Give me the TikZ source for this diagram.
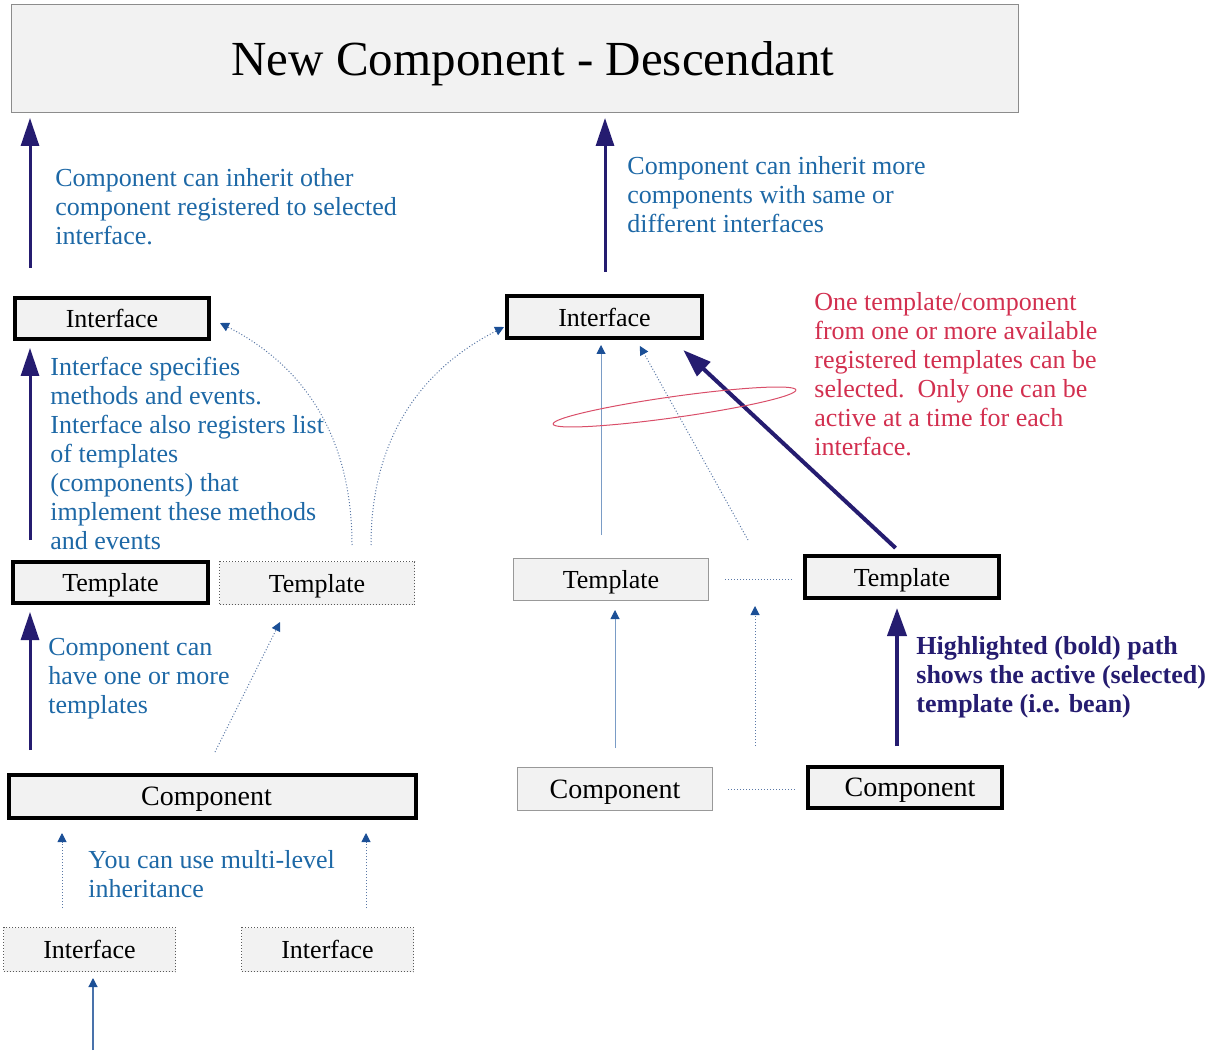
\documentclass[tikz,border=0pt]{standalone}
\usepackage{fontspec}
\setmainfont{Liberation Serif}
\usetikzlibrary{arrows.meta}
\definecolor{boxgray}{HTML}{F2F2F2}
\definecolor{noteblue}{HTML}{1D68A6}
\definecolor{navy}{HTML}{251C70}
\definecolor{notered}{HTML}{D22F4F}
\definecolor{tipblue}{HTML}{1B4F96}
\definecolor{thinblue}{HTML}{7A9CC6}
\definecolor{dotblue}{HTML}{5A78A6}

\begin{document}
\begin{tikzpicture}[x=0.5pt,y=-0.5pt]
         \tikzset{every node/.style={inner sep=0pt,font=\fontsize{13}{14.5}\selectfont}}
         \tikzset{topbox/.style={draw=gray!90,line width=0.5pt,fill=boxgray,minimum width=503.5pt,minimum height=54pt,text depth=0pt,font=\fontsize{24.5}{28}\selectfont}}
         \tikzset{boldbox/.style={draw=black,line width=2pt,fill=boxgray,minimum width=97pt,minimum height=20.5pt,text depth=0pt}}
         \tikzset{plainbox/.style={draw=gray!80,line width=0.5pt,fill=boxgray,minimum width=97.5pt,minimum height=21pt,text depth=0pt}}
         \tikzset{dotbox/.style={draw=gray!70!black,densely dotted,line width=0.5pt,fill=boxgray,minimum width=97.5pt,minimum height=21.5pt,text depth=0pt}}
         \tikzset{note/.style={align=left,anchor=north west,text=noteblue}}
         \tikzset{navyarrow/.style={draw=navy,line width=1.5pt,-{Triangle[length=14pt,width=9pt]}}}
         \tikzset{boldarrow/.style={draw=navy,line width=2pt,-{Triangle[length=14pt,width=9.5pt]}}}
         \tikzset{thinarrow/.style={draw=thinblue,line width=0.5pt,-{Triangle[length=4.5pt,width=4.5pt,color=tipblue]}}}
         \tikzset{solidarrow/.style={draw=tipblue!80,line width=0.6pt,-{Triangle[length=4.5pt,width=4.5pt,color=tipblue]}}}
         \tikzset{dotarrow/.style={draw=dotblue,densely dotted,line width=0.5pt,-{Triangle[length=4.5pt,width=4.5pt,color=tipblue]}}}
         \tikzset{dotline/.style={draw=dotblue,densely dotted,line width=0.5pt}}
         \useasboundingbox (0,0) rectangle (1213,1052);
         % boxes
         \node[topbox] (top) at (515,58.5) {\hspace*{18pt}New Component - Descendant};
         \node[boldbox] (intL) at (112,318.5) {Interface};
         \node[boldbox,minimum width=97.5pt] (tplL) at (110.5,582.5) {Template};
         \node[dotbox] (tplL2) at (317,583) {Template};
         \node[boldbox,minimum width=203.5pt,minimum height=21.5pt,font=\fontsize{14}{16}\selectfont] (compL) at (212.5,796.5) {\hspace*{-6pt}Component};
         \node[dotbox,minimum width=86pt,minimum height=22pt] (intB1) at (89.5,949.5) {Interface};
         \node[dotbox,minimum width=86pt,minimum height=22pt] (intB2) at (327.5,949.5) {Interface};
         \node[boldbox,minimum width=97.5pt,minimum height=21pt] (intR) at (604.5,317) {Interface};
         \node[plainbox] (tplR1) at (611,579.5) {Template};
         \node[boldbox,minimum height=21pt] (tplR2) at (902,577) {Template};
         \node[plainbox,minimum height=21.5pt,font=\fontsize{14}{16}\selectfont] (compR1) at (615,789) {Component};
         \node[boldbox,font=\fontsize{14}{16}\selectfont] (compR2) at (905,787.5) {\hspace*{5pt}Component};
         % notes
         \node[note] (noteInh) at (55,168) {Component can inherit other\\component registered to selected\\interface.};
         \node[note] (noteMore) at (627,156) {Component can inherit more\\components with same or\\different interfaces};
         \node[note] (noteSpec) at (50,357) {Interface specifies\\methods and events.\\Interface also registers list\\of templates\\(components) that\\implement these methods\\and events};
         \node[note] (noteTpl) at (48,638) {Component can\\have one or more\\templates};
         \node[note] (noteMulti) at (88,850) {You can use multi-level\\inheritance};
         \node[note,text=notered] (noteOne) at (814,292) {One template/component\\from one or more available\\registered templates can be\\selected.\ \ Only one can be\\active at a time for each\\interface.};
         \node[note,text=navy,font=\fontsize{13}{14.5}\selectfont\bfseries] (noteBold) at (916,636) {Highlighted (bold) path\\shows the active (selected)\\template (i.e. bean)};
         % left column
         \coordinate (a1) at (30,268);
         \coordinate (a2) at (605,272);
         \draw[navyarrow,shorten >=2.5pt] (a1) -- (a1 |- top.south);
         \draw[navyarrow,shorten >=2.5pt] (a2) -- (a2 |- top.south);
         \draw[navyarrow,shorten <=10pt,shorten >=3.5pt] (tplL.north -| a1) -- (intL.south -| a1);
         \draw[navyarrow,shorten <=11.5pt,shorten >=3.5pt] (compL.north -| a1) -- (tplL.south -| a1);
         \draw[dotarrow,shorten <=11.7pt,shorten >=9.5pt] ([xshift=-4pt]compL.north) -- ([xshift=-14.25pt]tplL2.south);
         \coordinate (c1) at (352,545);
         \coordinate (c2) at (371,545);
         \draw[dotarrow] (c1) to[out=90,in=-27] ([shift={(4.5pt,-2.25pt)}]intL.east);
         \draw[dotarrow] (c2) to[out=90,in=207] ([shift={(-0.5pt,-5pt)}]intR.west);
         % bottom left
         \draw[dotarrow,shorten <=9.5pt,shorten >=6.5pt] ([xshift=-13.75pt]intB1.north) -- ([xshift=-13.75pt]intB1.north |- compL.south);
         \draw[dotarrow,shorten <=9.5pt,shorten >=6.5pt] ([xshift=19.25pt]intB2.north) -- ([xshift=19.25pt]intB2.north |- compL.south);
         \coordinate (b1) at (93,1050);
         \draw[solidarrow,shorten >=3pt] (b1) -- (b1 |- intB1.south);
         % right column
         \draw[thinarrow,shorten <=11.5pt,shorten >=2.5pt] ([xshift=-5pt]tplR1.north) -- ([xshift=-5pt]tplR1.north |- intR.south);
         \coordinate (s1) at (748,540);
         \draw[dotarrow,shorten >=3.4pt] (s1) -- ([xshift=16pt]intR.south);
         \draw[boldarrow,shorten <=4.4pt,shorten >=7.4pt] (tplR2.north) -- ([xshift=34pt]intR.south);
         \draw[thinarrow,shorten <=9.5pt,shorten >=4.5pt] (compR1.north) -- (compR1.north |- tplR1.south);
         \coordinate (s2) at (755,746);
         \draw[dotarrow,shorten <=10.5pt,shorten >=2.5pt] (compR1.north -| s2) -- (tplR1.south -| s2);
         \draw[boldarrow,shorten <=9.5pt,shorten >=4pt] ([xshift=-4pt]compR2.north) -- ([xshift=-4pt]compR2.north |- tplR2.south);
         \draw[dotline,shorten <=8pt,shorten >=5pt] (tplR1.east) -- (tplR1.east -| tplR2.west);
         \draw[dotline,shorten <=7.5pt,shorten >=5.5pt] (compR1.east) -- (compR1.east -| compR2.west);
         \draw[notered!85!white,line width=0.5pt,rotate around={8:(674.5,407)}] (674.5,407) ellipse [x radius=61.3pt,y radius=5.25pt];
\end{tikzpicture}
\end{document}
